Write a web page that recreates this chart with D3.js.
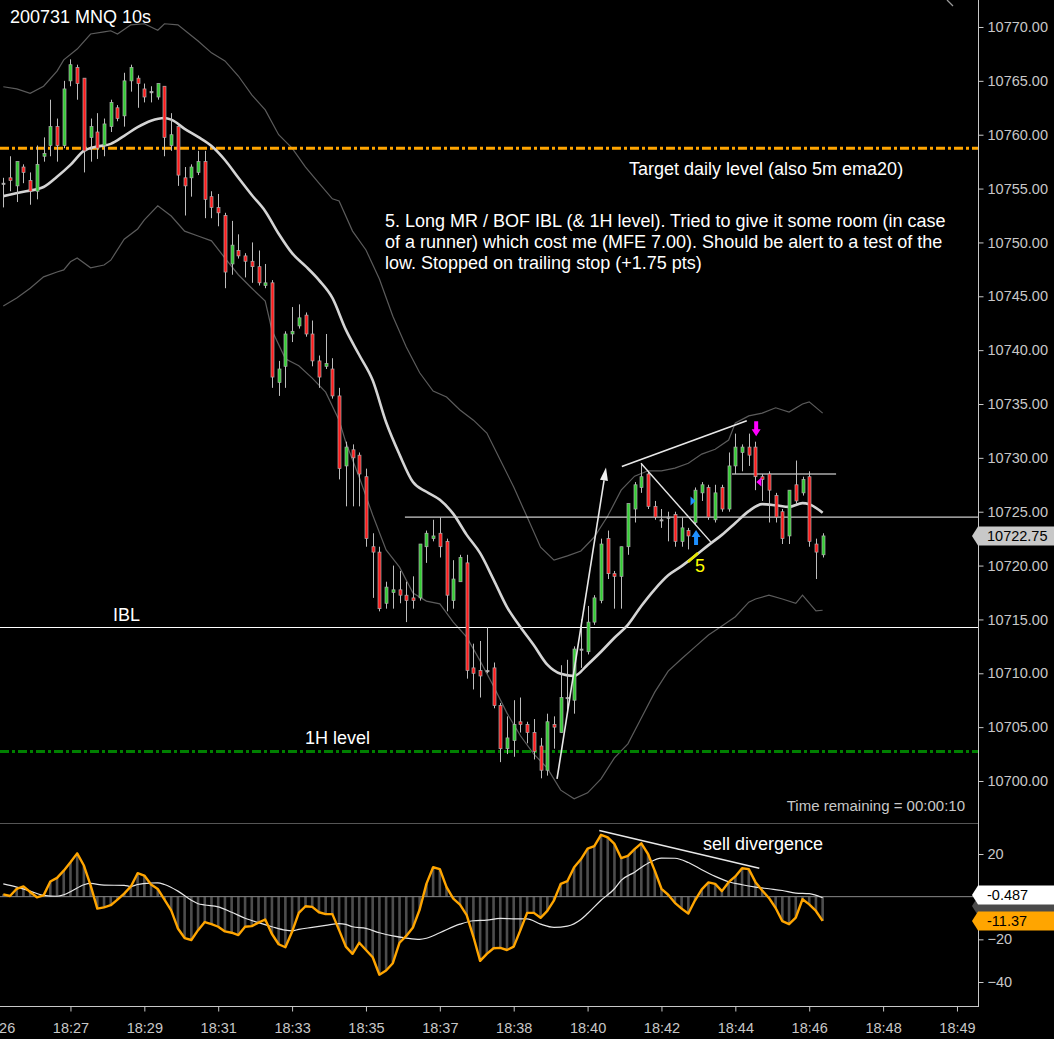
<!DOCTYPE html>
<html>
<head>
<meta charset="utf-8">
<script src="https://cdn.jsdelivr.net/npm/d3@7"></script>
<style>
html, body { margin: 0; padding: 0; background: #000; }
svg { display: block; }
text { font-family: "Liberation Sans", Arial, sans-serif; }
</style>
</head>
<body>
<div id="visHolder"></div>
<script>
/* 10s bars (bar 0 = first bar on the left) */
const opens = [10755.5,10756,10755.25,10757,10755.75,10754.75,10758,10759,10760.75,10759,10765,10766.25,10765.25,10759.75,10760.25,10759,10760.75,10762.5,10761.75,10765,
  10765.25,10764.25,10764,10763.5,10764.5,10759,10760.75,10756,10756,10756.5,10757.5,10754.25,10753.25,10752.5,10748,10749.25,10748.75,10748.25,10747.75,10746,
  10746.25,10737,10738.5,10741.5,10742.25,10743.25,10741.5,10739,10738.5,10738.25,10735.75,10729.25,10730.75,10730.25,10728.25,10721.75,10721.25,10716.5,10717.5,10717.75,
  10717.25,10717,10717,10721.75,10722.5,10723,10722.25,10716.75,10718.5,10720.25,10710.5,10710.25,10710.25,10710.5,10707,10703,10703.75,10705.5,10705.25,10704.5,
  10703.25,10701,10705.25,10704.5,10707.75,10707.5,10712.25,10712,10714.75,10716.75,10722.5,10719.25,10719,10721.75,10725.25,10727.25,10728.5,10725.5,10724.25,10724.5,
  10724.75,10722.25,10723.25,10724,10726.75,10727.25,10724.25,10727.25,10725.25,10729.25,10730.5,10731,10731,10728.25,10728.5,10726.5,10725,10722.75,10727.5,10726.75,
  10728.25,10722,10721];
const highs = [10756,10758,10757.5,10757.25,10756.5,10759,10759.75,10763.25,10761.5,10765,10767,10766.5,10765.25,10761.5,10762,10761.5,10763.25,10762.75,10765.75,10766.5,
  10765.5,10764.75,10764.5,10764.75,10764.5,10762,10760.75,10757,10757.25,10758.5,10758.5,10754.75,10754.5,10752.75,10752,10750.75,10749,10750,10749.25,10748,
  10746.5,10739,10741.75,10744,10744.25,10743.5,10742.75,10739.5,10741.5,10739.25,10736.5,10731.5,10731.25,10730.5,10729,10723,10721.75,10718.5,10720,10719.5,
  10718.5,10719,10722,10723.25,10724.25,10724.5,10722.5,10720.5,10721,10721,10712.75,10713,10714.25,10711,10707.25,10706,10707.5,10707.75,10705.5,10705.75,
  10704,10706.25,10706,10710.75,10711.25,10712.5,10715,10716.25,10717.25,10722.5,10723.25,10719.5,10721.75,10725.75,10727.75,10729.5,10728.75,10726,10725.25,10725,
  10725,10724.5,10723.5,10727.25,10727.75,10727.5,10727.5,10727.5,10730.5,10732.25,10731.25,10732.25,10731.5,10728.5,10728.75,10726.75,10725.25,10727,10729.75,10728.25,
  10728.75,10722.5,10723];
const lows = [10753.25,10754.75,10753.75,10755.5,10753.5,10754,10757.5,10758,10757.5,10758.75,10764.5,10763.25,10756.5,10757.5,10757.75,10758,10760.25,10761.25,10760.75,10764,
  10762.5,10763,10763,10763.25,10758,10758.5,10755.25,10752.5,10754.25,10756.25,10752.25,10752.25,10751.5,10745.75,10747,10748.5,10746.75,10746.25,10746,10745.75,
  10736.5,10735.75,10736.5,10740.75,10742,10741.25,10738.5,10736.5,10738.25,10735.5,10728,10725.5,10725.5,10725.5,10721.75,10717,10715.75,10716,10716,10716.5,
  10714.75,10716,10716.75,10720.25,10722.25,10720.75,10715.75,10716,10718.5,10709.5,10708.5,10707.75,10710,10706.75,10701.75,10702.5,10702.25,10704.5,10703.5,10702,
  10700.25,10700.5,10703,10704.5,10706.5,10706.25,10710.5,10711.75,10714.5,10716.5,10718.75,10716,10716,10721,10724,10726.75,10725.25,10724.25,10723.5,10722.25,
  10721.75,10721.75,10721.5,10723.75,10726,10724.25,10724,10725,10725,10728.5,10728.75,10729.25,10727,10726,10724,10724,10722,10722,10725.75,10726.5,
  10721.75,10718.75,10720.75];
const closes = [10755.5,10755.75,10757.5,10756.5,10754.75,10757.25,10758.25,10760.75,10759,10764.25,10766.5,10764.75,10758.5,10760.75,10758.75,10761,10763,10761.5,10765,10766.25,
  10764.75,10763.5,10764,10764.75,10759.75,10760,10756.25,10755.25,10757,10757.5,10754,10753.25,10752.75,10747.25,10749.75,10748.75,10748.25,10747.75,10746.25,10746.25,
  10737.5,10738.25,10741.5,10741.75,10743,10741.5,10739,10737.5,10738.75,10735.75,10729,10731,10730,10728.5,10722.5,10721.25,10716,10718,10717.75,10717.25,
  10716.75,10716.75,10722,10723,10722.75,10721.75,10717.25,10718.75,10720.75,10710.25,10710,10709.75,10710.25,10707,10703,10704,10705.25,10705.25,10704.5,10702.75,
  10701,10705.5,10705,10707.75,10707.75,10712.25,10712.25,10714.75,10717,10722,10719.25,10719,10721.75,10725.75,10727.5,10728.25,10725.5,10724.5,10724.25,10724.5,
  10722.25,10723.5,10722.75,10727,10727.5,10724.5,10726.75,10725.25,10729.25,10731,10731,10730.25,10728.25,10728,10727,10724.5,10722.5,10727,10726,10728,
  10722.25,10721.25,10722.75];

/* moving average and bands (bar index, price) */
const emaBars = [0,3,6,8,10,12,14,16,18,20,22,24,25,27,29,31,33,35,37,39,41,43,45,47,49,51,53,55,57,59,61,63,65,67,69,71,73,75,77,79,81,83,85,87,89,91,93,95,97,99,101,103,105,107,109,111,113,115,117,119,120,122];
const emaVals = [10754.3,10754.7,10755.15,10756.1,10757.2,10758.5,10758.9,10759.15,10759.9,10760.7,10761.3,10761.55,10761.4,10760.55,10759.8,10758.95,10757.65,10756,10754.4,10752.9,10750.8,10749,10747.8,10746.5,10744.85,10741.9,10739.55,10737.2,10733.3,10730.3,10727.75,10726.85,10726.1,10724.8,10722.85,10721.15,10718.7,10716.15,10714.3,10712.6,10710.8,10709.95,10709.75,10710.8,10712,10713.3,10714.5,10716.25,10717.8,10719.1,10719.95,10720.9,10721.9,10722.85,10723.95,10725.05,10725.7,10725.6,10725.45,10725.8,10725.7,10724.9];
const upperBars = [0,2,4,6,8,9,11,13,15,16,17,19,21,23,24,26,29,31,33,35,37,39,41,43,45,47,49,50,52,54,56,58,60,62,64,66,68,70,72,74,76,78,80,82,84,86,88,90,92,94,96,98,100,102,104,106,108,109,111,113,115,117,119,120,122];
const upperVals = [10764.45,10764.25,10763.85,10764.5,10765.9,10766.95,10767.95,10769.35,10769.55,10769.65,10769.35,10770.2,10770.3,10769.7,10770.3,10770.2,10768.7,10767.6,10766.85,10765.45,10763.7,10762.3,10760,10758.75,10757,10755.5,10754.05,10753.85,10751.05,10749.3,10746.6,10743.15,10740.3,10737.9,10736.2,10735.65,10734.45,10733.5,10732.3,10729.8,10727.3,10724.5,10721.7,10720.5,10720.9,10721.35,10722.65,10724.6,10727,10728.3,10728.8,10728.8,10729.05,10729.5,10730.35,10730.8,10731.65,10733.25,10733.9,10734.15,10734.65,10734.25,10735,10735.2,10734.15];
const lowerBars = [0,2,4,6,8,9,10,11,13,15,16,18,20,21,23,25,27,29,31,33,35,37,39,40,42,44,46,48,50,51,53,55,57,59,61,63,65,67,69,71,73,75,77,79,81,83,85,87,89,91,93,95,97,99,101,103,105,107,109,111,112,114,116,118,119,121,122];
const lowerVals = [10744.1,10744.85,10745.75,10746.8,10747.25,10747.45,10748.2,10748.55,10747.65,10747.9,10748.35,10750.3,10751.25,10752.1,10753.4,10752.45,10751.05,10750.6,10750.15,10748.55,10747,10745.75,10744.55,10741.85,10739.2,10738.55,10737.4,10736.1,10733.5,10731.45,10728.2,10724.7,10721.45,10719.85,10717.45,10716.7,10716.45,10714.75,10713.35,10711.15,10708.8,10706.3,10704.2,10702.5,10701.2,10699.15,10698.35,10698.9,10700.2,10702.15,10703.45,10705.85,10708.25,10710.2,10711.35,10712.45,10713.55,10714.4,10715.25,10716.6,10716.9,10717.25,10716.9,10716.5,10717.25,10715.8,10715.85];

/* oscillator: one value per bar, signal line sampled */
const oscVals = [1.1,0.3,3.7,4.8,2.2,-0.3,0.6,7.1,8.8,12.2,16.1,20.3,14.6,5.3,-5.6,-5.0,-4.0,-1.4,1.4,4.8,
  11.0,9.9,5.7,3.6,-1.4,-6.4,-14.9,-19.4,-20.3,-15.7,-11.9,-12.9,-14.1,-16.3,-16.9,-18.0,-14.1,-13.8,-12.2,-10.7,
  -17.5,-22.3,-23.7,-16.4,-7.6,-4.5,-4.8,-7.3,-8.2,-8.2,-15.7,-23.4,-26.8,-21.6,-25.0,-28.4,-36.6,-34.6,-31.2,-21.6,
  -18.4,-14.4,-6.0,6.0,13.8,12.9,4.5,-0.9,-3.7,-8.7,-18.8,-30.1,-26.8,-24.2,-24.0,-25.0,-23.4,-15.7,-7.6,-7.6,
  -9.9,-6.7,-1.7,6.0,7.3,13.8,17.5,22.5,23.7,29.0,27.8,24.7,18.1,19.1,22.3,25.0,20.0,12.2,3.7,0.9,
  -2.9,-5.6,-7.9,-1.7,3.4,6.7,6.0,2.6,6.8,9.5,13.3,12.9,6.8,2.9,-0.6,-5.3,-11.5,-12.9,-9.8,-1.2,
  -3.6,-6.7,-11.37];
const sigBars = [0,2,4,6,8,9,10,12,13,15,18,19,20,22,23,24,26,28,29,30,32,34,36,38,40,42,43,44,46,48,50,51,52,54,56,58,60,62,63,65,68,70,72,74,76,78,80,82,84,86,87,89,91,92,94,96,98,100,102,104,106,108,110,112,114,116,118,120,122];
const sigVals = [6.0,4.5,2.6,0.6,0.2,0.9,2.3,5.6,6.2,5.4,5.3,4.8,5.7,6.4,6.5,5.7,2.6,-1.7,-3.3,-3.9,-4.8,-7.3,-10.1,-12.2,-14.1,-15.7,-16.0,-15.3,-14.4,-13.5,-12.6,-13.0,-14.1,-14.9,-16.9,-18.4,-19.4,-20.0,-19.5,-16.9,-12.9,-11.3,-11.0,-10.2,-10.4,-10.4,-12.9,-14.4,-13.8,-10.7,-7.9,-1.7,3.7,7.6,11.5,15.7,18.1,18.0,16.0,12.6,9.5,7.0,5.6,4.5,3.7,2.9,1.7,1.4,-0.487];

/* axis ticks */
const priceTicks = [10700,10705,10710,10715,10720,10725,10730,10735,10740,10745,10750,10755,10760,10765,10770];
const oscTicks = [20,-20,-40];
const timeTickBars = [-1,10,21,32,43,54,65,76,87,98,109,120,131,142];
const timeLabels = ["18:26","18:27","18:29","18:31","18:33","18:35","18:37","18:38","18:40","18:42","18:44","18:46","18:48","18:49"];

/* levels and drawn objects */
const targetLevel = 10758.75, hourLevel = 10702.75, iblLevel = 10714.25;
const rangeLevel = 10724.5, shortLevel = 10728.5;
const lastPrice = 10722.75, lastOsc = -11.37, lastSig = -0.487;

var width = 1054, height = 1039;
var axisX = 978, panelSplit = 823, bottomY = 1006;
var grey = "#c8c8c8";

const svg = d3.select("#visHolder")
    .append("svg")
    .attr("width", width)
    .attr("height", height);

svg.append("rect").attr("width", width).attr("height", height).attr("fill", "#000");

/*scales*/
const x = d3.scaleLinear().domain([0, 122]).range([3.3, 822.65]);
const y = d3.scaleLinear().domain([10700, 10770]).range([781, 27]);
const yo = d3.scaleLinear().domain([-40, 20]).range([982, 854]);

const defs = svg.append("defs");
defs.append("clipPath").attr("id", "clipTop")
    .append("rect").attr("x", 0).attr("y", 0).attr("width", axisX).attr("height", panelSplit);
defs.append("clipPath").attr("id", "clipBot")
    .append("rect").attr("x", 0).attr("y", panelSplit).attr("width", axisX).attr("height", bottomY - panelSplit);

const topG = svg.append("g").attr("clip-path", "url(#clipTop)");
const botG = svg.append("g").attr("clip-path", "url(#clipBot)");

/*bands and moving average*/
const bandLine = d3.line().x(d => x(d[0])).y(d => y(d[1]));
topG.append("path")
    .datum(upperBars.map((b, i) => [b, upperVals[i]]))
    .attr("d", bandLine)
    .attr("fill", "none").attr("stroke", "#5c5c5c").attr("stroke-width", 1.2);
topG.append("path")
    .datum(lowerBars.map((b, i) => [b, lowerVals[i]]))
    .attr("d", bandLine)
    .attr("fill", "none").attr("stroke", "#5c5c5c").attr("stroke-width", 1.2);

/*horizontal levels*/
function hline(g, price, x1, x2, color, w, dash) {
    g.append("line")
        .attr("x1", x1).attr("x2", x2)
        .attr("y1", y(price)).attr("y2", y(price))
        .attr("stroke", color).attr("stroke-width", w)
        .attr("stroke-dasharray", dash || null);
}
hline(topG, iblLevel, 0, axisX, "#fff", 1);
hline(topG, rangeLevel, x(59.8), axisX, "#fff", 1);
hline(topG, shortLevel, x(108.5), x(124), "#fff", 1);
hline(topG, targetLevel, 0, axisX, "#ffa500", 3, "9,3,3,3");
hline(topG, hourLevel, 0, axisX, "#008000", 3, "9,3,3,3");

topG.append("path")
    .datum(emaBars.map((b, i) => [b, emaVals[i]]))
    .attr("d", d3.line().x(d => x(d[0])).y(d => y(d[1])).curve(d3.curveMonotoneX))
    .attr("fill", "none").attr("stroke", "#d4d4d4").attr("stroke-width", 2.6);

/*yellow slice on the average where the trade was taken*/
topG.append("line")
    .attr("x1", x(101.95)).attr("y1", y(10720.33))
    .attr("x2", x(103.44)).attr("y2", y(10721.17))
    .attr("stroke", "#e6e600").attr("stroke-width", 2.6);

/*candles*/
const bars = d3.range(opens.length).map(i => ({i: i, o: opens[i], h: highs[i], l: lows[i], c: closes[i]}));

topG.selectAll(".wick")
    .data(bars)
    .enter()
    .append("line")
    .attr("class", "wick")
    .attr("x1", d => Math.round(x(d.i)) + 0.5)
    .attr("x2", d => Math.round(x(d.i)) + 0.5)
    .attr("y1", d => y(d.h))
    .attr("y2", d => y(d.l))
    .attr("stroke", "#bdbdbd").attr("stroke-width", 1);

topG.selectAll(".body")
    .data(bars)
    .enter()
    .append("rect")
    .attr("class", "body")
    .attr("x", d => Math.round(x(d.i)) - 1)
    .attr("y", d => y(Math.max(d.o, d.c)))
    .attr("width", 3)
    .attr("height", d => Math.max(1.2, y(Math.min(d.o, d.c)) - y(Math.max(d.o, d.c))))
    .attr("fill", d => d.c > d.o ? "#32cd32" : (d.c < d.o ? "#ff1a1a" : "#bdbdbd"))
    .attr("stroke", "#b0b0b0").attr("stroke-width", 0.7);

/*hand drawn lines*/
function seg(g, sy, a, b, color, w) {
    return g.append("line")
        .attr("x1", x(a[0])).attr("y1", sy(a[1]))
        .attr("x2", x(b[0])).attr("y2", sy(b[1]))
        .attr("stroke", color).attr("stroke-width", w);
}
const arrowFrom = [82.45, 10700.2], arrowTo = [89.74, 10729.1];
seg(topG, y, arrowFrom, [89.45, 10727.9], "#e8e8e8", 1.6);
(function () {
    var x1 = x(arrowFrom[0]), y1 = y(arrowFrom[1]), x2 = x(arrowTo[0]), y2 = y(arrowTo[1]);
    var ang = Math.atan2(y2 - y1, x2 - x1), len = 13, half = 4;
    var bx = x2 - len * Math.cos(ang), by = y2 - len * Math.sin(ang);
    var px = -Math.sin(ang) * half, py = Math.cos(ang) * half;
    topG.append("path")
        .attr("d", "M" + x2 + "," + y2 + "L" + (bx + px) + "," + (by + py) + "L" + (bx - px) + "," + (by - py) + "Z")
        .attr("fill", "#f0f0f0");
})();
seg(topG, y, [92.1, 10729.2], [110.7, 10733.45], "#e8e8e8", 1.6);
seg(topG, y, [94.95, 10729.5], [105.33, 10722.2], "#e8e8e8", 1.4);

/*trade markers*/
function marker(g, bar, price, d, color) {
    g.append("path")
        .attr("transform", "translate(" + x(bar) + "," + y(price) + ")")
        .attr("d", d)
        .attr("fill", color);
}
marker(topG, 103.15, 10723.3, "M0,0L4.5,7L2,7L2,15L-2,15L-2,7L-4.5,7Z", "#1e90ff");
marker(topG, 102.7, 10726, "M-2.5,-4.5L2.5,0L-2.5,4.5Z", "#1e90ff");
marker(topG, 112.1, 10732, "M0,0L4.5,-7L2,-7L2,-15L-2,-15L-2,-7L-4.5,-7Z", "#ff00ff");
marker(topG, 112.5, 10727.75, "M2.5,-4.5L-2.5,0L2.5,4.5Z", "#ff00ff");

/*oscillator panel*/
botG.selectAll(".hist")
    .data(oscVals)
    .enter()
    .append("rect")
    .attr("class", "hist")
    .attr("x", (d, i) => x(i) - 1.3)
    .attr("width", 2.6)
    .attr("y", d => Math.min(yo(0), yo(d)))
    .attr("height", d => Math.abs(yo(d) - yo(0)))
    .attr("fill", "#4d4d4d");

botG.append("line")
    .attr("x1", 0).attr("x2", axisX)
    .attr("y1", yo(0)).attr("y2", yo(0))
    .attr("stroke", "#8a8a8a").attr("stroke-width", 1);

botG.append("path")
    .datum(sigBars.map((b, i) => [b, sigVals[i]]))
    .attr("d", d3.line().x(d => x(d[0])).y(d => yo(d[1])).curve(d3.curveMonotoneX))
    .attr("fill", "none").attr("stroke", "#e6e6e6").attr("stroke-width", 1.2);

botG.append("path")
    .datum(oscVals)
    .attr("d", d3.line().x((d, i) => x(i)).y(d => yo(d)))
    .attr("fill", "none").attr("stroke", "#ffa500").attr("stroke-width", 2.4)
    .attr("stroke-linejoin", "round");

seg(botG, yo, [88.74, 31], [112.57, 13.3], "#e8e8e8", 1.4);

/*frame lines*/
svg.append("line").attr("x1", 0).attr("x2", axisX).attr("y1", panelSplit + 0.5).attr("y2", panelSplit + 0.5)
    .attr("stroke", "#555").attr("stroke-width", 1);
svg.append("line").attr("x1", 0).attr("x2", axisX).attr("y1", bottomY + 0.5).attr("y2", bottomY + 0.5)
    .attr("stroke", grey).attr("stroke-width", 1);
svg.append("line").attr("x1", axisX + 0.5).attr("x2", axisX + 0.5).attr("y1", 0).attr("y2", bottomY + 1)
    .attr("stroke", grey).attr("stroke-width", 1);
svg.append("line").attr("x1", 947).attr("y1", 0).attr("x2", 953).attr("y2", 6)
    .attr("stroke", "#9a9a9a").attr("stroke-width", 1.3);

/*axes*/
function styleAxis(g) {
    g.select(".domain").remove();
    g.selectAll("line").attr("stroke", grey);
    g.selectAll("text").attr("fill", grey).style("font-size", "14.5px")
        .style("font-family", "'Liberation Sans', Arial, sans-serif");
}
svg.append("g")
    .attr("transform", "translate(" + (axisX + 0.5) + ",0)")
    .call(d3.axisRight(y).tickValues(priceTicks).tickFormat(d3.format(".2f")).tickSize(5).tickPadding(4))
    .call(styleAxis);
svg.append("g")
    .attr("transform", "translate(" + (axisX + 0.5) + ",0)")
    .call(d3.axisRight(yo).tickValues(oscTicks).tickSize(5).tickPadding(4))
    .call(styleAxis);
svg.append("g")
    .attr("transform", "translate(0," + (bottomY + 0.5) + ")")
    .call(d3.axisBottom(x).tickValues(timeTickBars).tickFormat((d, i) => timeLabels[i]).tickSize(5).tickPadding(11))
    .call(styleAxis);

/*value flags on the right*/
function flag(cy, fill, txt, txtColor) {
    svg.append("path")
        .attr("d", "M" + (axisX - 6) + "," + cy + "L" + axisX + "," + (cy - 9.5) + "L" + width + "," + (cy - 9.5) +
            "L" + width + "," + (cy + 9.5) + "L" + axisX + "," + (cy + 9.5) + "Z")
        .attr("fill", fill);
    if (txt) {
        svg.append("text").attr("x", 987).attr("y", cy + 5)
            .attr("fill", txtColor).style("font-size", "14.5px").text(txt);
    }
}
flag(y(lastPrice), grey, d3.format(".2f")(lastPrice), "#000");
flag(906, "#4a4a4a", null);
flag(895, "#fff", String(lastSig), "#000");
flag(yo(lastOsc), "#ffa500", String(lastOsc), "#000");

/*texts*/
function label(txt, tx, ty, size, color, anchor) {
    svg.append("text").attr("x", tx).attr("y", ty)
        .attr("fill", color).attr("text-anchor", anchor || "start")
        .style("font-size", size + "px").text(txt);
}
label("200731 MNQ 10s", 10, 23, 18, "#fff");
label("Target daily level (also 5m ema20)", 629, 175, 18, "#fff");
label("5. Long MR / BOF IBL (& 1H level). Tried to give it some room (in case", 385, 227, 18, "#fff");
label("of a runner) which cost me (MFE 7.00). Should be alert to a test of the", 385, 248, 18, "#fff");
label("low. Stopped on trailing stop (+1.75 pts)", 385, 269, 18, "#fff");
label("IBL", 113, 621, 18, "#fff");
label("1H level", 305, 744, 18, "#fff");
label("5", 695, 572, 18, "#ffff00");
label("sell divergence", 703, 850, 18, "#fff");
label("Time remaining = 00:00:10", 965, 811, 15, grey, "end");
</script>
</body>
</html>
